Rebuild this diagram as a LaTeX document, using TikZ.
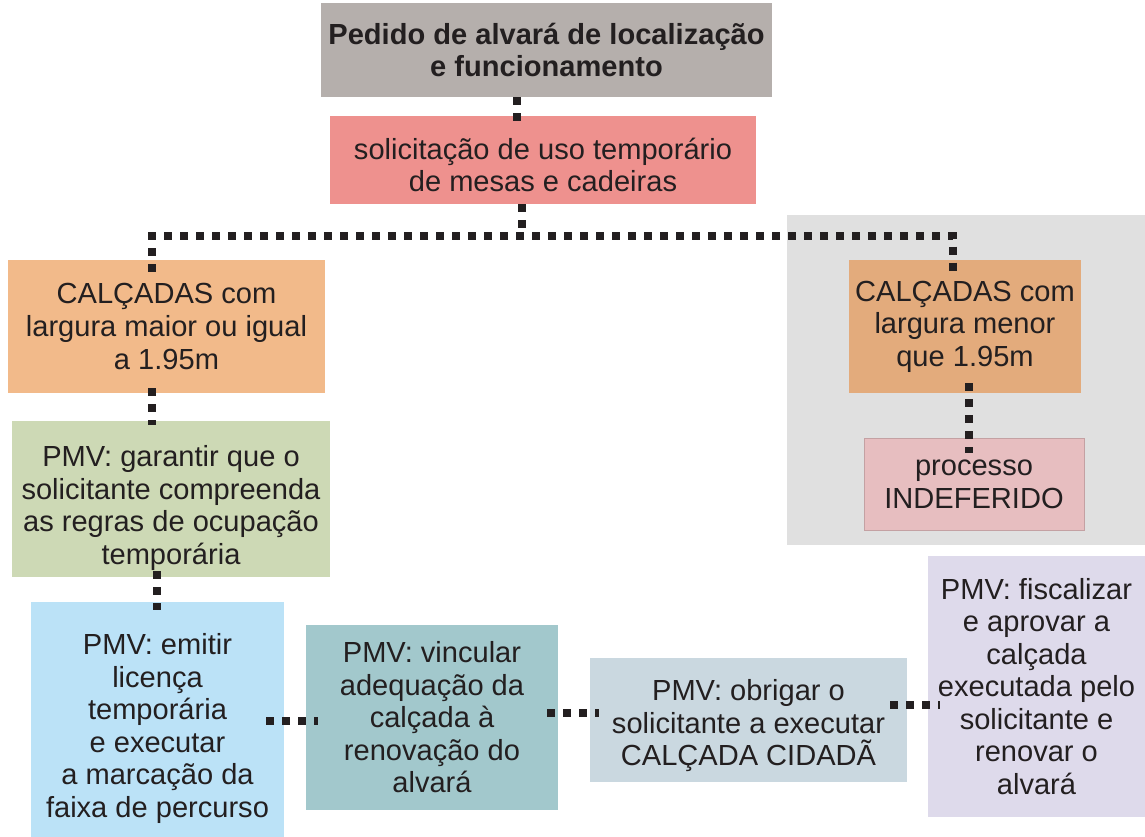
\documentclass[tikz,border=0pt]{standalone}
\usepackage{fontspec}
\setmainfont{Liberation Sans}
\usetikzlibrary{calc}
\definecolor{txt}{HTML}{231F20}
\definecolor{cTitle}{HTML}{B5AFAC}
\definecolor{cSol}{HTML}{EE918E}
\definecolor{cLc}{HTML}{F2BA8A}
\definecolor{cRc}{HTML}{E3AB7C}
\definecolor{cGar}{HTML}{CDD9B5}
\definecolor{cEmi}{HTML}{BBE2F7}
\definecolor{cVin}{HTML}{A2C8CC}
\definecolor{cObr}{HTML}{CAD8E0}
\definecolor{cFis}{HTML}{DEDAEB}
\definecolor{cPro}{HTML}{E7BEC0}
\definecolor{cBg}{HTML}{E0E0E0}
\begin{document}
\begin{tikzpicture}[x=0.75pt,y=-0.75pt,
  box/.style={inner sep=0pt, align=center, text=txt, font={\fontsize{21.8}{24.4}\selectfont}},
  titlebox/.style={box, font={\bfseries\fontsize{21.8}{24.4}\selectfont}},
  dotline/.style={draw=txt, line width=6pt, dash pattern=on 6pt off 6pt}]
\useasboundingbox (0,0) rectangle (1145,837);
% grey background region
\fill[cBg] (787,215) rectangle (1145,545);
% nodes
\node[titlebox, fill=cTitle, minimum width=338.25pt, minimum height=70.5pt] (t) at (546.5,50) {Pedido de alvará de localização\\e funcionamento};
\node[box, fill=cSol, minimum width=319.5pt, minimum height=66pt,
  label={[box, yshift=-3.75pt]center:{solicitação de uso temporário\\de mesas e cadeiras}}] (s) at (543,160) {};
\node[box, fill=cLc, minimum width=237.75pt, minimum height=99.75pt] (lc) at (166.5,326.5) {CALÇADAS com\\largura maior ou igual\\a 1.95m};
\node[box, fill=cRc, minimum width=174pt, minimum height=99.75pt] (rc) at (965,326.5) {CALÇADAS com\\largura menor\\que 1.95m};
\node[box, fill=cPro, draw=cPro!85!black, line width=0.75pt, minimum width=165pt, minimum height=68.25pt] (p) at (974,484.5) {processo\\INDEFERIDO};
\node[box, fill=cGar, minimum width=238.5pt, minimum height=117pt,
  label={[box, yshift=-6.75pt]center:{PMV: garantir que o\\solicitante compreenda\\as regras de ocupação\\temporária}}] (g) at (171,499) {};
\node[box, fill=cEmi, minimum width=189.75pt, minimum height=176.25pt,
  label={[box, yshift=-6.75pt]center:{PMV: emitir\\licença\\temporária\\e executar\\a marcação da\\faixa de percurso}}] (e) at (157.5,719.5) {};
\node[box, fill=cVin, minimum width=189pt, minimum height=138.75pt] (v) at (432,717.5) {PMV: vincular\\adequação da\\calçada à\\renovação do\\alvará};
\node[box, fill=cObr, minimum width=237.75pt, minimum height=93pt,
  label={[box, yshift=-4.5pt]center:{PMV: obrigar o\\solicitante a executar\\CALÇADA CIDADÃ}}] (o) at (748.5,720) {};
\node[box, fill=cFis, minimum width=162.75pt, minimum height=195.75pt] (f) at (1036.5,686.5) {PMV: fiscalizar\\e aprovar a\\calçada\\executada pelo\\solicitante e\\renovar o\\alvará};
% connectors
\draw[dotline] ($(t.south)+(-29.5,0)$) -- ($(s.north)+(-26,8)$);
\draw[dotline] ($(s.south)+(-21,0)$) -- ($(s.south)+(-21,32)$);
\draw[dotline] ($(lc.north)+(-14.5,12)$) |- ($(rc.north)+(-12,-24)$) -- ($(rc.north)+(-12,12)$);
\draw[dotline] ($(lc.south)+(-14.5,-5)$) -- ($(g.north)+(-19,4)$);
\draw[dotline] ($(rc.south)+(4,-10)$) -- ($(p.north)+(-5,14)$);
\draw[dotline] ($(g.south)+(-14,-6)$) -- ($(e.north)+(-0.5,8)$);
\draw[dotline] ($(e.east)+(-18,1.5)$) -- ($(v.west)+(12,3.5)$);
\draw[dotline] ($(v.east)+(-11,-4.5)$) -- ($(o.west)+(9,-7)$);
\draw[dotline] ($(o.east)+(-17,-15)$) -- ($(f.west)+(12,18.5)$);
\end{tikzpicture}
\end{document}
